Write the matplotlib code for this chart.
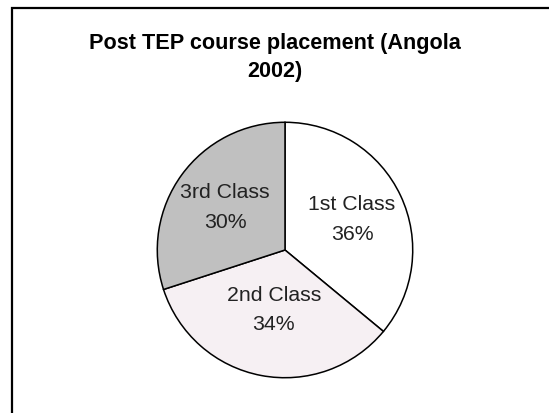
import numpy as np
import matplotlib
matplotlib.use('Agg')
import matplotlib.pyplot as plt
from matplotlib.patches import Rectangle

plt.rcParams['font.family'] = ['Liberation Sans', 'DejaVu Sans']

classes = ['1st Class', '2nd Class', '3rd Class']
shares = [36, 34, 30]
colors = ['#FFFFFF', '#F6F0F3', '#C0C0C0']
# how far out each label sits, as a fraction of the radius
label_dist = [0.58, 0.47, 0.58]

W, H = 549, 414
fig = plt.figure(figsize=(W / 100, H / 100), dpi=100)

# frame around the chart area (right and bottom edges fall outside the image)
fig.patches.append(Rectangle((11.5 / W, -0.2), 1.2, 1.2 - 8.5 / H,
                             transform=fig.transFigure, fill=False,
                             edgecolor='black', linewidth=1.6))

fig.text(0.5, 1 - 43 / H, 'Post TEP course placement (Angola',
         ha='center', va='center', fontsize=15.6, fontweight='bold')
fig.text(0.5, 1 - 71 / H, '2002)',
         ha='center', va='center', fontsize=15.6, fontweight='bold')

# pie centre (285, 251) px, radius 129 px
cx, cy, r = 285, 251, 129
ax = fig.add_axes([(cx - r) / W, (H - cy - r) / H, 2 * r / W, 2 * r / H])
labels = ['%s\n%d%%' % (c, s) for c, s in zip(classes, shares)]
wedges, texts = ax.pie(shares, labels=labels, colors=colors, startangle=90,
                       counterclock=False,
                       wedgeprops={'edgecolor': 'black', 'linewidth': 1.1},
                       textprops={'fontsize': 15.3, 'color': '#222222',
                                  'ha': 'center', 'va': 'center',
                                  'linespacing': 1.7})
for w, t, d in zip(wedges, texts, label_dist):
    mid = np.deg2rad((w.theta1 + w.theta2) / 2)
    t.set_position((d * np.cos(mid), d * np.sin(mid)))
    t.set_ha('center')
ax.set_xlim(-1.01, 1.01)
ax.set_ylim(-1.01, 1.01)
ax.set_aspect('equal')

fig.savefig('out.png', dpi=100, facecolor='white')
